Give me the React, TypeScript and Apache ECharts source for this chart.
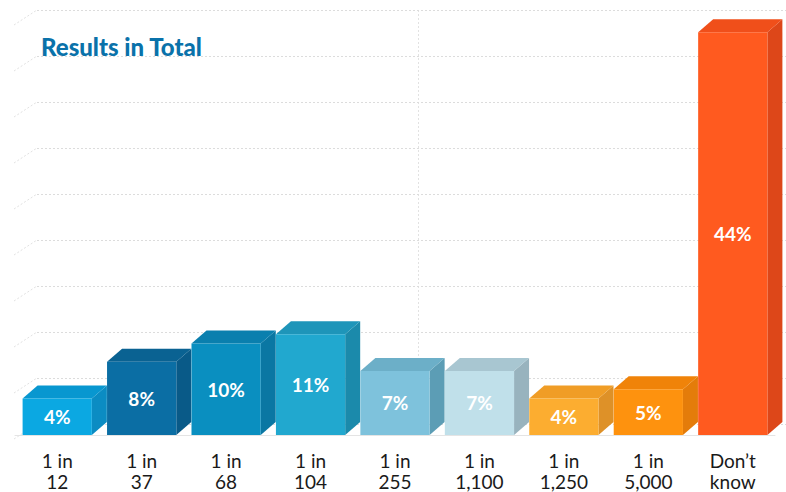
import React, { useEffect, useRef } from "react";
import * as echarts from "echarts";

const categories = ["1 in 12", "1 in 37", "1 in 68", "1 in 104", "1 in 255", "1 in 1,100", "1 in 1,250", "1 in 5,000", "Don’t know"];
const values = [4, 8, 10, 11, 7, 7, 4, 5, 44];
const frontColors = ["#0ba8e2", "#0b6ea4", "#0a8fc0", "#21a8cf", "#7ec2dc", "#c0e0ea", "#fcad30", "#fe920e", "#ff5a1f"];
const topColors = ["#0897d0", "#0a6292", "#0a7fae", "#1e95b9", "#6cafc8", "#a8c6d1", "#f09d26", "#f08309", "#f04f1a"];
const sideColors = ["#0b8cc3", "#095a88", "#0a77a3", "#1b8aab", "#5c9db5", "#98b3be", "#de9128", "#e47c0a", "#dd4719"];
const yTicks = [0, 5, 10, 15, 20, 25, 30, 35, 40, 45];

const DX = 15;
const DY = 13;
const FONT = "Lato, 'Open Sans', sans-serif";

export default function App() {
  const ref = useRef<HTMLDivElement>(null);
  useEffect(() => {
    if (!ref.current) return;
    const chart = echarts.init(ref.current, null, { renderer: "svg" });
    const option: any = {
      animation: false,
      backgroundColor: "#ffffff",
      title: {
        text: "Results in Total",
        left: 36,
        top: 29,
        textStyle: { color: "#0a72aa", fontSize: 24, fontWeight: 900, fontFamily: FONT },
      },
      grid: [
        { left: 15, right: 11, top: 23, bottom: 55 },
        { left: 37, right: 0, top: 10, bottom: 68 },
      ],
      xAxis: [
        {
          type: "category",
          gridIndex: 0,
          data: categories,
          axisLine: { show: true, lineStyle: { color: "#e4e4e4", width: 1 } },
          axisTick: { show: false },
          axisLabel: {
            margin: 15,
            color: "#1a1a1a",
            fontSize: 19,
            lineHeight: 21,
            fontFamily: FONT,
            formatter: (v: string) => {
              const i = v.lastIndexOf(" ");
              return v.slice(0, i) + "\n" + v.slice(i + 1);
            },
          },
        },
        { type: "value", gridIndex: 1, show: false, min: 0, max: 1 },
      ],
      yAxis: [
        { type: "value", gridIndex: 0, min: 0, max: 45, interval: 5, show: false, splitLine: { show: false } },
        {
          type: "value",
          gridIndex: 1,
          min: 0,
          max: 45,
          interval: 5,
          axisLine: { show: false },
          axisTick: { show: false },
          axisLabel: { show: false },
          splitLine: { show: true, lineStyle: { color: "#dcdcdc", type: [2, 2], width: 1 } },
        },
      ],
      series: [
        {
          type: "custom",
          xAxisIndex: 0,
          yAxisIndex: 0,
          data: values.map((v, i) => [i, v]),
          renderItem: (params: any, api: any) => {
            const idx = api.value(0);
            const val = api.value(1);
            const top = api.coord([idx, val]);
            const base = api.coord([idx, 0]);
            const bw = api.size([1, 0])[0] * 0.82;
            const x0 = top[0] - bw / 2;
            const x1 = top[0] + bw / 2;
            const yt = top[1];
            const yb = base[1];
            return {
              type: "group",
              children: [
                {
                  type: "polygon",
                  shape: { points: [[x1, yt], [x1 + DX, yt - DY], [x1 + DX, yb - DY], [x1, yb]] },
                  style: { fill: sideColors[idx] },
                },
                {
                  type: "polygon",
                  shape: { points: [[x0, yt], [x0 + DX, yt - DY], [x1 + DX, yt - DY], [x1, yt]] },
                  style: { fill: topColors[idx] },
                },
                {
                  type: "rect",
                  shape: { x: x0, y: yt, width: bw, height: yb - yt },
                  style: { fill: frontColors[idx] },
                },
                {
                  type: "text",
                  x: (x0 + x1) / 2,
                  y: (yt + yb) / 2,
                  style: {
                    text: Math.round(val) + "%",
                    fill: "#ffffff",
                    fontSize: 19,
                    fontWeight: "bold",
                    fontFamily: FONT,
                    align: "center",
                    verticalAlign: "middle",
                  },
                },
              ],
            };
          },
        },
      ],
    };
    chart.setOption(option);

    const graphics: any[] = [];
    const leftX = chart.convertToPixel({ xAxisIndex: 1 }, 0) as number;
    yTicks.forEach((t) => {
      const y = chart.convertToPixel({ yAxisIndex: 1 }, t) as number;
      graphics.push({
        type: "line",
        silent: true,
        z: -1,
        shape: { x1: leftX - DX - 8, y1: y + DY + 2, x2: leftX, y2: y },
        style: { stroke: "#e2e2e2", lineWidth: 1, lineDash: [2, 2] },
      });
    });
    const midX = chart.convertToPixel({ xAxisIndex: 1 }, 0.5) as number;
    const yTop = chart.convertToPixel({ yAxisIndex: 1 }, 45) as number;
    const yBot = chart.convertToPixel({ yAxisIndex: 1 }, 0) as number;
    graphics.push({
      type: "line",
      silent: true,
      z: -1,
      shape: { x1: midX + 7, y1: yTop, x2: midX + 7, y2: yBot + DY },
      style: { stroke: "#e2e2e2", lineWidth: 1, lineDash: [2, 2] },
    });
    chart.setOption({ graphic: graphics });

    return () => chart.dispose();
  }, []);
  return <div ref={ref} style={{ position: "absolute", left: 0, top: 0, width: 786, height: 492 }} />;
}
